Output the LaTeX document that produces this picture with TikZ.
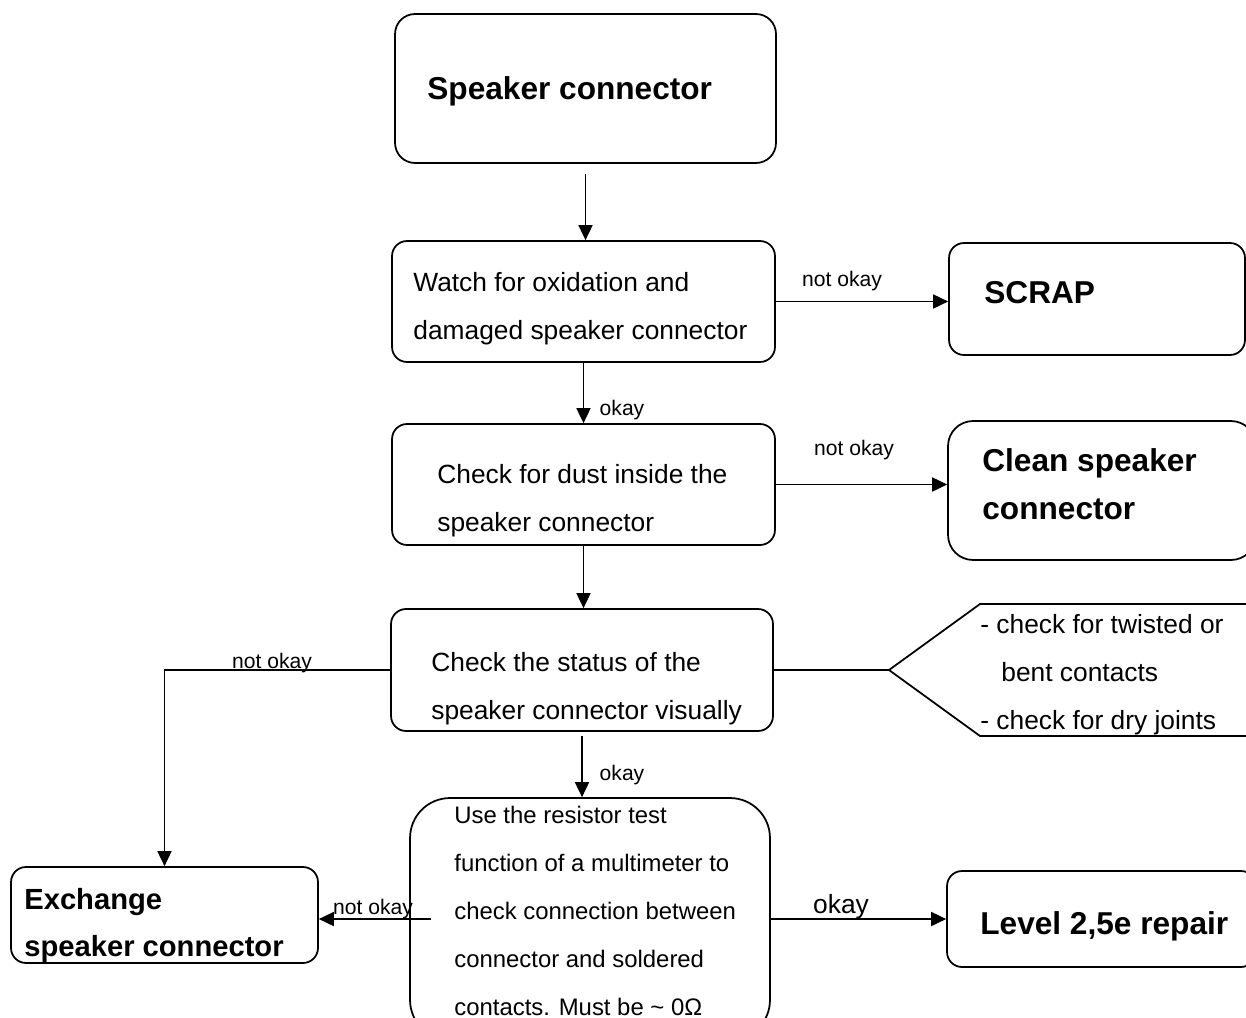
\documentclass[tikz,border=0pt]{standalone}
\usepackage{fontspec}
\setmainfont{Liberation Sans}
\usetikzlibrary{arrows.meta,shapes}

\begin{document}
\begin{tikzpicture}[x=0.02cm,y=-0.02cm,
        box/.style={draw,line width=1pt,rounded corners=0.3cm,inner sep=0pt},
        txt/.style={anchor=west,align=left,inner sep=0pt,font=\fontsize{15pt}{27.3pt}\selectfont},
        btxt/.style={txt,font=\fontsize{18pt}{27.3pt}\selectfont\bfseries},
        lbl/.style={inner sep=0pt,font=\fontsize{12pt}{14pt}\selectfont},
        arr/.style={line width=1pt,-{Triangle[length=0.3cm,width=0.28cm]}},
        ln/.style={line width=1pt}]
        \useasboundingbox (0,0) rectangle (1246,1017);
        \clip (0,0) rectangle (1246,1017);
        % boxes
        \node[box,rounded corners=0.4cm,minimum width=7.62cm,minimum height=2.98cm] (top) at (585.5,88.5) {};
        \node[box,minimum width=7.66cm,minimum height=2.42cm] (watch) at (583.5,301.5) {};
        \node[box,minimum width=5.92cm,minimum height=2.24cm] (scrap) at (1097,299) {};
        \node[box,minimum width=7.66cm,minimum height=2.42cm] (dust) at (583.5,484.5) {};
        \node[box,rounded corners=0.5cm,minimum width=6.16cm,minimum height=2.78cm] (clean) at (1102,490.5) {};
        \node[box,minimum width=7.64cm,minimum height=2.44cm] (status) at (582,670) {};
        \node[box,rounded corners=0.8cm,minimum width=7.2cm,minimum height=4.84cm] (res) at (590,919) {};
        \node[box,minimum width=6.14cm,minimum height=1.92cm] (exch) at (164.5,915) {};
        \node[box,minimum width=6.18cm,minimum height=1.92cm] (level) at (1101.5,919) {};
        % texts
        \node[btxt] (ttop) at (427,91) {Speaker connector};
        \node[txt] (twatch) at (413,309) {Watch for oxidation and\\damaged speaker connector};
        \node[btxt] (tscrap) at (984,293) {SCRAP};
        \node[txt] (tdust) at (437,500.5) {Check for dust inside the\\speaker connector};
        \node[btxt] (tclean) at (982,484) {Clean speaker\\connector};
        \node[txt] (tstatus) at (431,689) {Check the status of the\\speaker connector visually};
        \node[txt] (tcall) at (980,675) {- check for twisted or\\\hspace*{0.42cm}bent contacts\\- check for dry joints};
        \node[txt,font=\fontsize{13.6pt}{27.3pt}\selectfont] (tres) at (454,911) {Use the resistor test\\function of a multimeter to\\check connection between\\connector and soldered\\contacts. Must be \textasciitilde{} 0Ω};
        \node[btxt,font=\fontsize{16.6pt}{26.8pt}\selectfont\bfseries] (texch) at (24,925) {Exchange\\speaker connector};
        \node[btxt] (tlevel) at (980,926) {Level 2,5e repair};
        % callout
        \coordinate (tip) at (889,670);
        \draw[ln] (1260,604) -- (980,604) -- (tip) -- (980,736) -- (1260,736);
        \draw[ln] (status.east) -- (tip);
        % connectors
        \draw[arr,shorten <=0.2cm] (top.south) -- (top.south |- watch.north);
        \draw[arr] (watch.south) -- (dust.north);
        \draw[arr] (dust.south) -- (dust.south |- status.north);
        \draw[arr,shorten <=0.08cm] (status.south) -- (status.south |- res.north);
        \draw[arr] (watch.east) -- (scrap.west |- watch.east);
        \draw[arr] (dust.east) -- (clean.west |- dust.east);
        \draw[arr] (status.west) -| (exch.north);
        \coordinate (rl) at (431,919);
        \draw[arr] (rl) -- (rl -| exch.east);
        \draw[arr] (res.east) -- (level.west);
        % labels
        \node[lbl] (l1) at (622,410) {okay};
        \node[lbl] (l2) at (622,775) {okay};
        \node[lbl] (l3) at (842,281) {not okay};
        \node[lbl] (l4) at (854,450) {not okay};
        \node[lbl] (l5) at (272,663) {not okay};
        \node[lbl] (l6) at (373,909) {not okay};
        \node[txt,anchor=center] (l7) at (841,907) {okay};
    \end{tikzpicture}
\end{document}
